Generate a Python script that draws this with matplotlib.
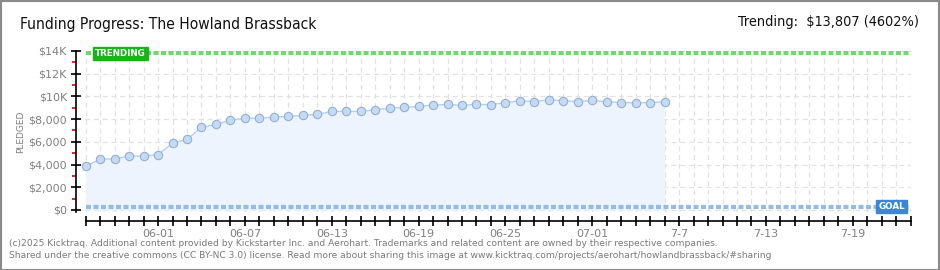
import numpy as np
import pandas as pd
import matplotlib
matplotlib.use("Agg")
import matplotlib.pyplot as plt
import matplotlib.dates as mdates
from matplotlib.patches import Rectangle

# Daily pledged totals, 05-27 .. 07-06
pledged = [3830, 4490, 4490, 4750, 4750, 4870, 5880, 6230, 7270, 7540,
           7900, 8070, 8070, 8180, 8240, 8330, 8420, 8680, 8680, 8680,
           8840, 8960, 9040, 9120, 9230, 9290, 9210, 9300, 9280, 9450,
           9620, 9540, 9710, 9620, 9540, 9650, 9540, 9450, 9450, 9450,
           9540]
start_date = "2025-05-27"
end_date = "2025-07-23"
goal = 300
trending = 13807

y_ticks = [0, 2000, 4000, 6000, 8000, 10000, 12000, 14000]
y_labels = ["$0", "$2,000", "$4,000", "$6,000", "$8,000", "$10K", "$12K", "$14K"]
y_minor = [1000, 3000, 5000, 7000, 9000, 11000, 13000]
x_tick_dates = ["2025-06-01", "2025-06-07", "2025-06-13", "2025-06-19",
                "2025-06-25", "2025-07-01", "2025-07-07", "2025-07-13", "2025-07-19"]
x_tick_labels = ["06-01", "06-07", "06-13", "06-19", "06-25", "07-01", "7-7", "7-13", "7-19"]

title = "Funding Progress: The Howland Brassback"
footer1 = ("(c)2025 Kicktraq. Additional content provided by Kickstarter Inc. and Aerohart. "
           "Trademarks and related content are owned by their respective companies.")
footer2 = ("Shared under the creative commons (CC BY-NC 3.0) license. Read more about sharing this image at "
           "www.kicktraq.com/projects/aerohart/howlandbrassback/#sharing")

dates = pd.date_range(start_date, periods=len(pledged), freq="D")
all_days = pd.date_range(start_date, end_date, freq="D")
d0 = mdates.date2num(all_days[0])
d1 = mdates.date2num(all_days[-1])

W, H = 940, 270
fig = plt.figure(figsize=(W / 100, H / 100), dpi=100)
fig.patch.set_facecolor("white")

def fx(px):
    return px / W

def fy(py):
    return 1 - py / H

# outer border
fig.add_artist(Rectangle((0.5 / W, 0.5 / H), 1 - 1.5 / W, 1 - 1.5 / H, transform=fig.transFigure,
                         fill=False, edgecolor="#8a8a8a", linewidth=1.5))

# main plot
px_per_day = 14.46
left_px = 76
right_px = 910.7
xmin = d0 - (85.7 - left_px) / px_per_day
ax = fig.add_axes([fx(left_px), fy(212), fx(right_px - left_px), (212 - 51) / H])
ax.set_xlim(xmin, d1)
ax.set_ylim(-180, 14000)

for d in all_days:
    ax.axvline(mdates.date2num(d), color="#e2e2e2", lw=0.9, ls=(0, (4, 3)), zorder=0)
for v in y_ticks:
    ax.axhline(v, color="#e2e2e2", lw=0.9, ls=(0, (4, 3)), zorder=0)

xd = mdates.date2num(dates)
ax.fill_between(xd, 0, pledged, color="#edf4fd", zorder=1, lw=0)
ax.plot(xd, pledged, color="#b3d0f0", lw=1.0, zorder=3)
ax.plot(xd, pledged, ls="none", marker="o", ms=6.0, mfc="#c3dbf6", mec="#97aecb", mew=0.8, zorder=4)

ax.plot([d0, d1], [trending, trending], color="#72d672", lw=3, ls=(0, (1.2, 0.6)), zorder=2)
ax.plot([d0, d1], [goal, goal], color="#93bbea", lw=3, ls=(0, (1.2, 0.6)), zorder=2)

for s in ["top", "right", "bottom"]:
    ax.spines[s].set_visible(False)
ax.spines["left"].set_color("black")
ax.spines["left"].set_linewidth(1.2)
ax.set_yticks(y_ticks)
ax.set_yticklabels(y_labels)
ax.set_yticks(y_minor, minor=True)
ax.tick_params(axis="y", which="major", direction="inout", length=7, width=1.2, color="black",
               labelsize=8, labelcolor="#808080", pad=3)
ax.tick_params(axis="y", which="minor", direction="out", length=3, width=1.2, color="#e00000")
ax.set_xticks([])
ax.set_ylabel("PLEDGED", fontsize=6.5, color="#808080", labelpad=2)

# labels on the reference lines
ax.text(d0 + 0.65, trending, "TRENDING", fontsize=6.3, color="white", weight="bold",
        va="center", ha="left", zorder=6,
        bbox=dict(boxstyle="square,pad=0.25", fc="#17b517", ec="#17b517"))
ax.text(d1 - 0.4, goal, "GOAL", fontsize=6.3, color="white", weight="bold",
        va="center", ha="right", zorder=6,
        bbox=dict(boxstyle="square,pad=0.25", fc="#3a87d8", ec="#3a87d8"))

# date axis below
axx = fig.add_axes([fx(left_px), fy(221), fx(right_px - left_px), 1 / H])
axx.set_xlim(xmin, d1)
axx.set_ylim(0, 1)
axx.patch.set_visible(False)
for s in ["top", "right", "left"]:
    axx.spines[s].set_visible(False)
axx.spines["bottom"].set_bounds(d0, d1)
axx.spines["bottom"].set_linewidth(1.2)
axx.set_yticks([])
axx.set_xticks(mdates.date2num(all_days), minor=True)
axx.set_xticks(mdates.date2num(pd.to_datetime(x_tick_dates)))
axx.set_xticklabels(x_tick_labels)
axx.tick_params(axis="x", which="both", direction="inout", length=7, width=1.2, color="black")
axx.tick_params(axis="x", which="major", labelsize=8, labelcolor="#808080", pad=2)

# header and footer text
fig.text(fx(20), fy(24), title, fontsize=11.2, family="DejaVu Sans", stretch="condensed",
         weight="light", color="#111111", va="center", ha="left")
fig.text(fx(919), fy(22), "Trending:  $13,807 (4602%)", fontsize=10.4, family="DejaVu Sans",
         stretch="condensed", weight="light", color="#111111", va="center", ha="right")
fig.text(fx(9), fy(243), footer1, fontsize=6.6, color="#7a7a7a", va="center", ha="left")
fig.text(fx(9), fy(256), footer2, fontsize=6.6, color="#7a7a7a", va="center", ha="left")

fig.savefig("out.png", dpi=100, facecolor="white")
